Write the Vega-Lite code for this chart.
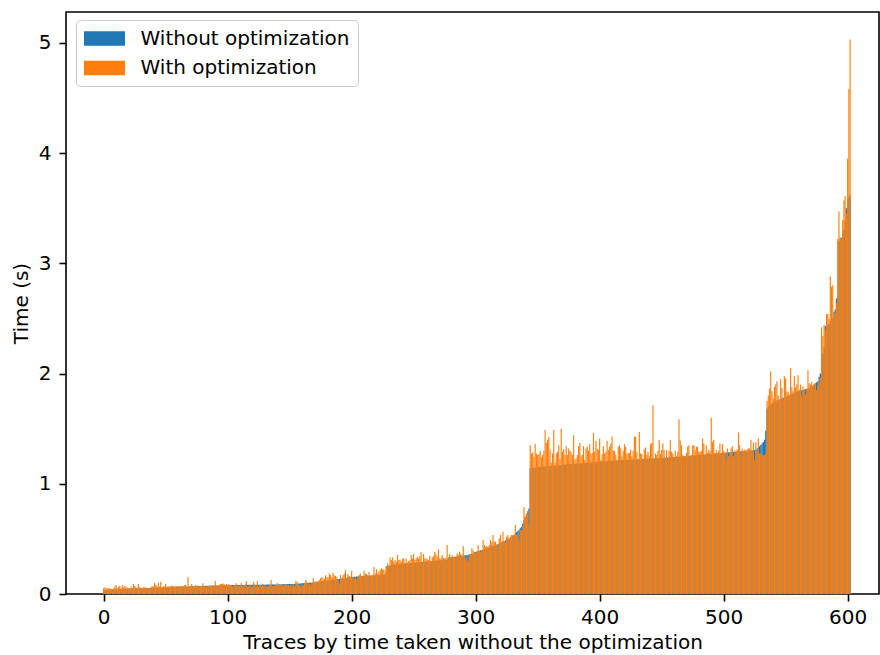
{
  "$schema": "https://vega.github.io/schema/vega-lite/v6.json",
  "width": 813,
  "height": 582,
  "autosize": {"type": "none"},
  "padding": {"left": 66, "top": 12, "right": 1, "bottom": 61},
  "background": "white",
  "config": {
    "font": "DejaVu Sans",
    "view": {"stroke": "black", "strokeWidth": 1.6},
    "axis": {
      "domain": false,
      "grid": false,
      "ticks": true,
      "tickColor": "black",
      "tickSize": 7,
      "tickWidth": 1.6,
      "labelColor": "black",
      "labelFont": "DejaVu Sans",
      "labelFontSize": 20,
      "titleColor": "black",
      "titleFont": "DejaVu Sans",
      "titleFontSize": 20,
      "titleFontWeight": "normal"
    },
    "axisX": {"labelPadding": 6, "titlePadding": 5},
    "axisY": {"labelPadding": 8, "titlePadding": 7},
    "legend": {
      "orient": "none",
      "legendX": 10,
      "legendY": 8,
      "padding": 8,
      "fillColor": "rgba(255,255,255,0.8)",
      "strokeColor": "#cccccc",
      "cornerRadius": 4,
      "symbolType": "M-2,-0.7H2V0.7H-2Z",
      "symbolSize": 420,
      "symbolStrokeWidth": 0,
      "symbolOpacity": 1,
      "symbolOffset": 10,
      "labelOffset": 25.5,
      "labelLimit": 400,
      "labelFont": "DejaVu Sans",
      "labelFontSize": 20,
      "labelColor": "black",
      "rowPadding": 8.5
    }
  },
  "data": {
    "values": [
{"i":0,"a":0.036,"b":0.055},{"i":1,"a":0.037,"b":0.061},{"i":2,"a":0.038,"b":0.052},{"i":3,"a":0.039,"b":0.052},{"i":4,"a":0.040,"b":0.050},
{"i":5,"a":0.041,"b":0.052},{"i":6,"a":0.041,"b":0.048},{"i":7,"a":0.042,"b":0.042},{"i":8,"a":0.042,"b":0.052},{"i":9,"a":0.043,"b":0.067},
{"i":10,"a":0.043,"b":0.082},{"i":11,"a":0.044,"b":0.052},{"i":12,"a":0.044,"b":0.067},{"i":13,"a":0.045,"b":0.073},{"i":14,"a":0.045,"b":0.052},
{"i":15,"a":0.046,"b":0.082},{"i":16,"a":0.046,"b":0.061},{"i":17,"a":0.046,"b":0.073},{"i":18,"a":0.047,"b":0.061},{"i":19,"a":0.047,"b":0.058},
{"i":20,"a":0.048,"b":0.052},{"i":21,"a":0.048,"b":0.055},{"i":22,"a":0.048,"b":0.067},{"i":23,"a":0.049,"b":0.052},{"i":24,"a":0.049,"b":0.091},
{"i":25,"a":0.050,"b":0.073},{"i":26,"a":0.050,"b":0.061},{"i":27,"a":0.050,"b":0.052},{"i":28,"a":0.051,"b":0.091},{"i":29,"a":0.051,"b":0.061},
{"i":30,"a":0.052,"b":0.049},{"i":31,"a":0.052,"b":0.052},{"i":32,"a":0.053,"b":0.061},{"i":33,"a":0.053,"b":0.058},{"i":34,"a":0.053,"b":0.061},
{"i":35,"a":0.054,"b":0.052},{"i":36,"a":0.054,"b":0.055},{"i":37,"a":0.055,"b":0.052},{"i":38,"a":0.055,"b":0.061},{"i":39,"a":0.056,"b":0.073},
{"i":40,"a":0.056,"b":0.067},{"i":41,"a":0.057,"b":0.103},{"i":42,"a":0.057,"b":0.082},{"i":43,"a":0.058,"b":0.067},{"i":44,"a":0.058,"b":0.103},
{"i":45,"a":0.058,"b":0.067},{"i":46,"a":0.059,"b":0.112},{"i":47,"a":0.059,"b":0.064},{"i":48,"a":0.060,"b":0.067},{"i":49,"a":0.060,"b":0.070},
{"i":50,"a":0.061,"b":0.091},{"i":51,"a":0.061,"b":0.067},{"i":52,"a":0.062,"b":0.067},{"i":53,"a":0.062,"b":0.070},{"i":54,"a":0.062,"b":0.067},
{"i":55,"a":0.063,"b":0.076},{"i":56,"a":0.063,"b":0.073},{"i":57,"a":0.064,"b":0.067},{"i":58,"a":0.064,"b":0.070},{"i":59,"a":0.065,"b":0.073},
{"i":60,"a":0.065,"b":0.073},{"i":61,"a":0.066,"b":0.067},{"i":62,"a":0.066,"b":0.070},{"i":63,"a":0.066,"b":0.073},{"i":64,"a":0.067,"b":0.070},
{"i":65,"a":0.067,"b":0.082},{"i":66,"a":0.068,"b":0.082},{"i":67,"a":0.068,"b":0.067},{"i":68,"a":0.068,"b":0.151},{"i":69,"a":0.069,"b":0.067},
{"i":70,"a":0.069,"b":0.073},{"i":71,"a":0.070,"b":0.091},{"i":72,"a":0.070,"b":0.073},{"i":73,"a":0.070,"b":0.067},{"i":74,"a":0.071,"b":0.082},
{"i":75,"a":0.071,"b":0.073},{"i":76,"a":0.072,"b":0.076},{"i":77,"a":0.072,"b":0.067},{"i":78,"a":0.072,"b":0.073},{"i":79,"a":0.073,"b":0.073},
{"i":80,"a":0.073,"b":0.097},{"i":81,"a":0.074,"b":0.073},{"i":82,"a":0.074,"b":0.067},{"i":83,"a":0.074,"b":0.067},{"i":84,"a":0.075,"b":0.073},
{"i":85,"a":0.075,"b":0.073},{"i":86,"a":0.075,"b":0.076},{"i":87,"a":0.076,"b":0.073},{"i":88,"a":0.076,"b":0.079},{"i":89,"a":0.076,"b":0.073},
{"i":90,"a":0.077,"b":0.117},{"i":91,"a":0.077,"b":0.073},{"i":92,"a":0.077,"b":0.067},{"i":93,"a":0.078,"b":0.079},{"i":94,"a":0.078,"b":0.091},
{"i":95,"a":0.078,"b":0.091},{"i":96,"a":0.079,"b":0.097},{"i":97,"a":0.079,"b":0.091},{"i":98,"a":0.079,"b":0.082},{"i":99,"a":0.080,"b":0.091},
{"i":100,"a":0.080,"b":0.085},{"i":101,"a":0.080,"b":0.088},{"i":102,"a":0.080,"b":0.085},{"i":103,"a":0.081,"b":0.073},{"i":104,"a":0.081,"b":0.067},
{"i":105,"a":0.081,"b":0.067},{"i":106,"a":0.081,"b":0.079},{"i":107,"a":0.081,"b":0.097},{"i":108,"a":0.082,"b":0.073},{"i":109,"a":0.082,"b":0.067},
{"i":110,"a":0.082,"b":0.067},{"i":111,"a":0.082,"b":0.100},{"i":112,"a":0.082,"b":0.073},{"i":113,"a":0.082,"b":0.079},{"i":114,"a":0.083,"b":0.061},
{"i":115,"a":0.083,"b":0.118},{"i":116,"a":0.083,"b":0.067},{"i":117,"a":0.083,"b":0.073},{"i":118,"a":0.083,"b":0.067},{"i":119,"a":0.083,"b":0.067},
{"i":120,"a":0.084,"b":0.067},{"i":121,"a":0.084,"b":0.109},{"i":122,"a":0.084,"b":0.073},{"i":123,"a":0.084,"b":0.067},{"i":124,"a":0.084,"b":0.118},
{"i":125,"a":0.085,"b":0.067},{"i":126,"a":0.085,"b":0.079},{"i":127,"a":0.085,"b":0.073},{"i":128,"a":0.085,"b":0.091},{"i":129,"a":0.085,"b":0.073},
{"i":130,"a":0.085,"b":0.067},{"i":131,"a":0.086,"b":0.067},{"i":132,"a":0.086,"b":0.067},{"i":133,"a":0.086,"b":0.073},{"i":134,"a":0.086,"b":0.079},
{"i":135,"a":0.086,"b":0.127},{"i":136,"a":0.087,"b":0.073},{"i":137,"a":0.087,"b":0.073},{"i":138,"a":0.087,"b":0.079},{"i":139,"a":0.087,"b":0.073},
{"i":140,"a":0.087,"b":0.100},{"i":141,"a":0.088,"b":0.091},{"i":142,"a":0.088,"b":0.082},{"i":143,"a":0.088,"b":0.082},{"i":144,"a":0.088,"b":0.079},
{"i":145,"a":0.089,"b":0.073},{"i":146,"a":0.089,"b":0.082},{"i":147,"a":0.089,"b":0.091},{"i":148,"a":0.090,"b":0.082},{"i":149,"a":0.090,"b":0.082},
{"i":150,"a":0.090,"b":0.079},{"i":151,"a":0.091,"b":0.067},{"i":152,"a":0.091,"b":0.067},{"i":153,"a":0.092,"b":0.088},{"i":154,"a":0.092,"b":0.070},
{"i":155,"a":0.093,"b":0.118},{"i":156,"a":0.093,"b":0.109},{"i":157,"a":0.094,"b":0.091},{"i":158,"a":0.095,"b":0.079},{"i":159,"a":0.096,"b":0.061},
{"i":160,"a":0.097,"b":0.067},{"i":161,"a":0.098,"b":0.082},{"i":162,"a":0.099,"b":0.097},{"i":163,"a":0.100,"b":0.127},{"i":164,"a":0.100,"b":0.109},
{"i":165,"a":0.101,"b":0.097},{"i":166,"a":0.102,"b":0.091},{"i":167,"a":0.103,"b":0.082},{"i":168,"a":0.104,"b":0.100},{"i":169,"a":0.105,"b":0.145},
{"i":170,"a":0.106,"b":0.112},{"i":171,"a":0.108,"b":0.109},{"i":172,"a":0.110,"b":0.118},{"i":173,"a":0.112,"b":0.112},{"i":174,"a":0.114,"b":0.127},
{"i":175,"a":0.116,"b":0.145},{"i":176,"a":0.118,"b":0.157},{"i":177,"a":0.119,"b":0.133},{"i":178,"a":0.120,"b":0.139},{"i":179,"a":0.121,"b":0.169},
{"i":180,"a":0.122,"b":0.151},{"i":181,"a":0.124,"b":0.151},{"i":182,"a":0.126,"b":0.187},{"i":183,"a":0.128,"b":0.172},{"i":184,"a":0.130,"b":0.151},
{"i":185,"a":0.132,"b":0.193},{"i":186,"a":0.133,"b":0.169},{"i":187,"a":0.134,"b":0.163},{"i":188,"a":0.135,"b":0.151},{"i":189,"a":0.136,"b":0.127},
{"i":190,"a":0.137,"b":0.097},{"i":191,"a":0.138,"b":0.172},{"i":192,"a":0.140,"b":0.133},{"i":193,"a":0.142,"b":0.169},{"i":194,"a":0.144,"b":0.187},
{"i":195,"a":0.146,"b":0.218},{"i":196,"a":0.148,"b":0.142},{"i":197,"a":0.150,"b":0.181},{"i":198,"a":0.152,"b":0.163},{"i":199,"a":0.153,"b":0.157},
{"i":200,"a":0.154,"b":0.212},{"i":201,"a":0.155,"b":0.142},{"i":202,"a":0.156,"b":0.133},{"i":203,"a":0.157,"b":0.151},{"i":204,"a":0.158,"b":0.133},
{"i":205,"a":0.159,"b":0.160},{"i":206,"a":0.160,"b":0.172},{"i":207,"a":0.161,"b":0.187},{"i":208,"a":0.162,"b":0.157},{"i":209,"a":0.163,"b":0.163},
{"i":210,"a":0.164,"b":0.212},{"i":211,"a":0.165,"b":0.187},{"i":212,"a":0.165,"b":0.181},{"i":213,"a":0.166,"b":0.172},{"i":214,"a":0.166,"b":0.202},
{"i":215,"a":0.167,"b":0.158},{"i":216,"a":0.168,"b":0.163},{"i":217,"a":0.168,"b":0.175},{"i":218,"a":0.169,"b":0.248},{"i":219,"a":0.169,"b":0.187},
{"i":220,"a":0.170,"b":0.224},{"i":221,"a":0.171,"b":0.187},{"i":222,"a":0.171,"b":0.202},{"i":223,"a":0.172,"b":0.218},{"i":224,"a":0.173,"b":0.233},
{"i":225,"a":0.174,"b":0.224},{"i":226,"a":0.175,"b":0.224},{"i":227,"a":0.176,"b":0.202},{"i":228,"a":0.252,"b":0.250},{"i":229,"a":0.255,"b":0.279},
{"i":230,"a":0.258,"b":0.254},{"i":231,"a":0.260,"b":0.332},{"i":232,"a":0.262,"b":0.308},{"i":233,"a":0.264,"b":0.332},{"i":234,"a":0.266,"b":0.293},
{"i":235,"a":0.268,"b":0.308},{"i":236,"a":0.270,"b":0.293},{"i":237,"a":0.271,"b":0.354},{"i":238,"a":0.272,"b":0.308},{"i":239,"a":0.273,"b":0.314},
{"i":240,"a":0.274,"b":0.293},{"i":241,"a":0.275,"b":0.323},{"i":242,"a":0.276,"b":0.323},{"i":243,"a":0.277,"b":0.284},{"i":244,"a":0.278,"b":0.323},
{"i":245,"a":0.279,"b":0.284},{"i":246,"a":0.280,"b":0.300},{"i":247,"a":0.281,"b":0.308},{"i":248,"a":0.282,"b":0.354},{"i":249,"a":0.283,"b":0.323},
{"i":250,"a":0.284,"b":0.363},{"i":251,"a":0.285,"b":0.308},{"i":252,"a":0.286,"b":0.323},{"i":253,"a":0.287,"b":0.338},{"i":254,"a":0.288,"b":0.323},
{"i":255,"a":0.289,"b":0.344},{"i":256,"a":0.290,"b":0.381},{"i":257,"a":0.291,"b":0.284},{"i":258,"a":0.292,"b":0.363},{"i":259,"a":0.293,"b":0.323},
{"i":260,"a":0.294,"b":0.323},{"i":261,"a":0.295,"b":0.316},{"i":262,"a":0.296,"b":0.308},{"i":263,"a":0.297,"b":0.344},{"i":264,"a":0.298,"b":0.293},
{"i":265,"a":0.299,"b":0.332},{"i":266,"a":0.300,"b":0.344},{"i":267,"a":0.301,"b":0.384},{"i":268,"a":0.302,"b":0.363},{"i":269,"a":0.303,"b":0.338},
{"i":270,"a":0.304,"b":0.405},{"i":271,"a":0.305,"b":0.323},{"i":272,"a":0.306,"b":0.323},{"i":273,"a":0.307,"b":0.354},{"i":274,"a":0.308,"b":0.332},
{"i":275,"a":0.309,"b":0.323},{"i":276,"a":0.310,"b":0.330},{"i":277,"a":0.311,"b":0.444},{"i":278,"a":0.330,"b":0.323},{"i":279,"a":0.332,"b":0.363},
{"i":280,"a":0.333,"b":0.332},{"i":281,"a":0.334,"b":0.354},{"i":282,"a":0.336,"b":0.338},{"i":283,"a":0.337,"b":0.332},{"i":284,"a":0.338,"b":0.338},
{"i":285,"a":0.340,"b":0.369},{"i":286,"a":0.341,"b":0.354},{"i":287,"a":0.342,"b":0.384},{"i":288,"a":0.344,"b":0.363},{"i":289,"a":0.346,"b":0.350},
{"i":290,"a":0.348,"b":0.435},{"i":291,"a":0.350,"b":0.344},{"i":292,"a":0.352,"b":0.323},{"i":293,"a":0.354,"b":0.308},{"i":294,"a":0.356,"b":0.293},
{"i":295,"a":0.358,"b":0.363},{"i":296,"a":0.360,"b":0.354},{"i":297,"a":0.362,"b":0.414},{"i":298,"a":0.365,"b":0.393},{"i":299,"a":0.378,"b":0.384},
{"i":300,"a":0.382,"b":0.375},{"i":301,"a":0.386,"b":0.380},{"i":302,"a":0.389,"b":0.444},{"i":303,"a":0.392,"b":0.393},{"i":304,"a":0.396,"b":0.384},
{"i":305,"a":0.400,"b":0.399},{"i":306,"a":0.403,"b":0.490},{"i":307,"a":0.406,"b":0.444},{"i":308,"a":0.410,"b":0.429},{"i":309,"a":0.414,"b":0.435},
{"i":310,"a":0.420,"b":0.429},{"i":311,"a":0.424,"b":0.444},{"i":312,"a":0.428,"b":0.490},{"i":313,"a":0.432,"b":0.470},{"i":314,"a":0.436,"b":0.535},
{"i":315,"a":0.440,"b":0.475},{"i":316,"a":0.444,"b":0.475},{"i":317,"a":0.448,"b":0.444},{"i":318,"a":0.452,"b":0.429},{"i":319,"a":0.456,"b":0.505},
{"i":320,"a":0.460,"b":0.535},{"i":321,"a":0.468,"b":0.475},{"i":322,"a":0.474,"b":0.565},{"i":323,"a":0.480,"b":0.481},{"i":324,"a":0.486,"b":0.475},
{"i":325,"a":0.492,"b":0.520},{"i":326,"a":0.498,"b":0.535},{"i":327,"a":0.504,"b":0.496},{"i":328,"a":0.510,"b":0.520},{"i":329,"a":0.518,"b":0.535},
{"i":330,"a":0.526,"b":0.535},{"i":331,"a":0.535,"b":0.540},{"i":332,"a":0.548,"b":0.625},{"i":333,"a":0.560,"b":0.541},{"i":334,"a":0.572,"b":0.535},
{"i":335,"a":0.584,"b":0.475},{"i":336,"a":0.596,"b":0.580},{"i":337,"a":0.610,"b":0.580},{"i":338,"a":0.640,"b":0.610},{"i":339,"a":0.670,"b":0.790},
{"i":340,"a":0.700,"b":0.700},{"i":341,"a":0.725,"b":0.730},{"i":342,"a":0.750,"b":0.740},{"i":343,"a":0.775,"b":0.625},{"i":344,"a":1.140,"b":1.350},
{"i":345,"a":1.142,"b":1.275},{"i":346,"a":1.144,"b":1.285},{"i":347,"a":1.146,"b":1.245},{"i":348,"a":1.148,"b":1.360},{"i":349,"a":1.150,"b":1.275},
{"i":350,"a":1.151,"b":1.260},{"i":351,"a":1.152,"b":1.270},{"i":352,"a":1.153,"b":1.300},{"i":353,"a":1.154,"b":1.240},{"i":354,"a":1.155,"b":1.260},
{"i":355,"a":1.156,"b":1.300},{"i":356,"a":1.157,"b":1.487},{"i":357,"a":1.158,"b":1.370},{"i":358,"a":1.159,"b":1.400},{"i":359,"a":1.160,"b":1.424},
{"i":360,"a":1.161,"b":1.310},{"i":361,"a":1.162,"b":1.190},{"i":362,"a":1.163,"b":1.275},{"i":363,"a":1.164,"b":1.487},{"i":364,"a":1.165,"b":1.190},
{"i":365,"a":1.166,"b":1.275},{"i":366,"a":1.167,"b":1.290},{"i":367,"a":1.168,"b":1.350},{"i":368,"a":1.169,"b":1.230},{"i":369,"a":1.170,"b":1.500},
{"i":370,"a":1.171,"b":1.290},{"i":371,"a":1.172,"b":1.315},{"i":372,"a":1.173,"b":1.260},{"i":373,"a":1.174,"b":1.340},{"i":374,"a":1.175,"b":1.260},
{"i":375,"a":1.176,"b":1.320},{"i":376,"a":1.177,"b":1.300},{"i":377,"a":1.178,"b":1.285},{"i":378,"a":1.179,"b":1.260},{"i":379,"a":1.180,"b":1.440},
{"i":380,"a":1.181,"b":1.220},{"i":381,"a":1.182,"b":1.230},{"i":382,"a":1.183,"b":1.260},{"i":383,"a":1.184,"b":1.340},{"i":384,"a":1.185,"b":1.370},
{"i":385,"a":1.186,"b":1.250},{"i":386,"a":1.187,"b":1.260},{"i":387,"a":1.188,"b":1.340},{"i":388,"a":1.189,"b":1.215},{"i":389,"a":1.190,"b":1.320},
{"i":390,"a":1.191,"b":1.336},{"i":391,"a":1.192,"b":1.300},{"i":392,"a":1.193,"b":1.360},{"i":393,"a":1.194,"b":1.270},{"i":394,"a":1.195,"b":1.280},
{"i":395,"a":1.196,"b":1.460},{"i":396,"a":1.197,"b":1.290},{"i":397,"a":1.198,"b":1.390},{"i":398,"a":1.199,"b":1.320},{"i":399,"a":1.200,"b":1.306},
{"i":400,"a":1.201,"b":1.410},{"i":401,"a":1.202,"b":1.215},{"i":402,"a":1.202,"b":1.275},{"i":403,"a":1.203,"b":1.340},{"i":404,"a":1.204,"b":1.275},
{"i":405,"a":1.205,"b":1.290},{"i":406,"a":1.206,"b":1.390},{"i":407,"a":1.206,"b":1.306},{"i":408,"a":1.207,"b":1.336},{"i":409,"a":1.208,"b":1.366},
{"i":410,"a":1.209,"b":1.430},{"i":411,"a":1.210,"b":1.300},{"i":412,"a":1.210,"b":1.300},{"i":413,"a":1.211,"b":1.260},{"i":414,"a":1.212,"b":1.215},
{"i":415,"a":1.213,"b":1.336},{"i":416,"a":1.214,"b":1.350},{"i":417,"a":1.214,"b":1.320},{"i":418,"a":1.215,"b":1.250},{"i":419,"a":1.216,"b":1.300},
{"i":420,"a":1.217,"b":1.360},{"i":421,"a":1.218,"b":1.336},{"i":422,"a":1.218,"b":1.270},{"i":423,"a":1.219,"b":1.280},{"i":424,"a":1.220,"b":1.280},
{"i":425,"a":1.220,"b":1.310},{"i":426,"a":1.221,"b":1.250},{"i":427,"a":1.221,"b":1.300},{"i":428,"a":1.222,"b":1.426},{"i":429,"a":1.222,"b":1.430},
{"i":430,"a":1.223,"b":1.290},{"i":431,"a":1.223,"b":1.215},{"i":432,"a":1.224,"b":1.470},{"i":433,"a":1.224,"b":1.275},{"i":434,"a":1.225,"b":1.270},
{"i":435,"a":1.225,"b":1.215},{"i":436,"a":1.226,"b":1.310},{"i":437,"a":1.226,"b":1.330},{"i":438,"a":1.227,"b":1.260},{"i":439,"a":1.227,"b":1.290},
{"i":440,"a":1.228,"b":1.250},{"i":441,"a":1.228,"b":1.360},{"i":442,"a":1.229,"b":1.370},{"i":443,"a":1.229,"b":1.713},{"i":444,"a":1.230,"b":1.220},
{"i":445,"a":1.231,"b":1.275},{"i":446,"a":1.232,"b":1.260},{"i":447,"a":1.232,"b":1.300},{"i":448,"a":1.233,"b":1.396},{"i":449,"a":1.234,"b":1.270},
{"i":450,"a":1.235,"b":1.306},{"i":451,"a":1.236,"b":1.366},{"i":452,"a":1.236,"b":1.306},{"i":453,"a":1.237,"b":1.230},{"i":454,"a":1.238,"b":1.306},
{"i":455,"a":1.239,"b":1.230},{"i":456,"a":1.240,"b":1.300},{"i":457,"a":1.240,"b":1.396},{"i":458,"a":1.241,"b":1.290},{"i":459,"a":1.242,"b":1.275},
{"i":460,"a":1.243,"b":1.240},{"i":461,"a":1.244,"b":1.300},{"i":462,"a":1.244,"b":1.250},{"i":463,"a":1.245,"b":1.290},{"i":464,"a":1.246,"b":1.586},
{"i":465,"a":1.247,"b":1.390},{"i":466,"a":1.248,"b":1.350},{"i":467,"a":1.248,"b":1.260},{"i":468,"a":1.249,"b":1.245},{"i":469,"a":1.250,"b":1.250},
{"i":470,"a":1.251,"b":1.280},{"i":471,"a":1.252,"b":1.336},{"i":472,"a":1.253,"b":1.350},{"i":473,"a":1.254,"b":1.250},{"i":474,"a":1.255,"b":1.260},
{"i":475,"a":1.256,"b":1.350},{"i":476,"a":1.257,"b":1.350},{"i":477,"a":1.258,"b":1.306},{"i":478,"a":1.259,"b":1.336},{"i":479,"a":1.260,"b":1.336},
{"i":480,"a":1.261,"b":1.290},{"i":481,"a":1.262,"b":1.290},{"i":482,"a":1.263,"b":1.300},{"i":483,"a":1.264,"b":1.410},{"i":484,"a":1.265,"b":1.366},
{"i":485,"a":1.266,"b":1.260},{"i":486,"a":1.267,"b":1.350},{"i":487,"a":1.268,"b":1.280},{"i":488,"a":1.269,"b":1.306},{"i":489,"a":1.270,"b":1.290},
{"i":490,"a":1.271,"b":1.600},{"i":491,"a":1.272,"b":1.380},{"i":492,"a":1.273,"b":1.396},{"i":493,"a":1.274,"b":1.275},{"i":494,"a":1.275,"b":1.306},
{"i":495,"a":1.276,"b":1.275},{"i":496,"a":1.277,"b":1.300},{"i":497,"a":1.278,"b":1.366},{"i":498,"a":1.279,"b":1.275},{"i":499,"a":1.280,"b":1.360},
{"i":500,"a":1.281,"b":1.300},{"i":501,"a":1.282,"b":1.280},{"i":502,"a":1.283,"b":1.220},{"i":503,"a":1.284,"b":1.320},{"i":504,"a":1.285,"b":1.250},
{"i":505,"a":1.286,"b":1.280},{"i":506,"a":1.287,"b":1.320},{"i":507,"a":1.288,"b":1.340},{"i":508,"a":1.289,"b":1.250},{"i":509,"a":1.290,"b":1.300},
{"i":510,"a":1.291,"b":1.300},{"i":511,"a":1.292,"b":1.310},{"i":512,"a":1.293,"b":1.466},{"i":513,"a":1.294,"b":1.350},{"i":514,"a":1.295,"b":1.260},
{"i":515,"a":1.296,"b":1.320},{"i":516,"a":1.297,"b":1.300},{"i":517,"a":1.298,"b":1.310},{"i":518,"a":1.299,"b":1.300},{"i":519,"a":1.300,"b":1.310},
{"i":520,"a":1.301,"b":1.320},{"i":521,"a":1.302,"b":1.320},{"i":522,"a":1.303,"b":1.400},{"i":523,"a":1.304,"b":1.290},{"i":524,"a":1.305,"b":1.375},
{"i":525,"a":1.306,"b":1.220},{"i":526,"a":1.312,"b":1.380},{"i":527,"a":1.320,"b":1.300},{"i":528,"a":1.330,"b":1.410},{"i":529,"a":1.340,"b":1.275},
{"i":530,"a":1.352,"b":1.275},{"i":531,"a":1.365,"b":1.250},{"i":532,"a":1.380,"b":1.260},{"i":533,"a":1.400,"b":1.260},{"i":534,"a":1.480,"b":1.280},
{"i":535,"a":1.680,"b":1.750},{"i":536,"a":1.700,"b":1.800},{"i":537,"a":1.710,"b":1.865},{"i":538,"a":1.720,"b":2.020},{"i":539,"a":1.730,"b":1.840},
{"i":540,"a":1.740,"b":1.774},{"i":541,"a":1.745,"b":1.880},{"i":542,"a":1.750,"b":1.900},{"i":543,"a":1.755,"b":1.930},{"i":544,"a":1.760,"b":1.800},
{"i":545,"a":1.765,"b":1.760},{"i":546,"a":1.770,"b":1.950},{"i":547,"a":1.775,"b":1.870},{"i":548,"a":1.780,"b":1.765},{"i":549,"a":1.785,"b":1.976},
{"i":550,"a":1.790,"b":1.955},{"i":551,"a":1.795,"b":1.840},{"i":552,"a":1.800,"b":1.830},{"i":553,"a":1.805,"b":1.810},{"i":554,"a":1.810,"b":2.050},
{"i":555,"a":1.815,"b":1.875},{"i":556,"a":1.820,"b":1.840},{"i":557,"a":1.825,"b":1.976},{"i":558,"a":1.830,"b":1.875},{"i":559,"a":1.835,"b":1.900},
{"i":560,"a":1.840,"b":1.985},{"i":561,"a":1.843,"b":1.855},{"i":562,"a":1.846,"b":1.900},{"i":563,"a":1.849,"b":1.800},{"i":564,"a":1.852,"b":1.885},
{"i":565,"a":1.855,"b":1.855},{"i":566,"a":1.858,"b":1.810},{"i":567,"a":1.861,"b":1.860},{"i":568,"a":1.864,"b":2.030},{"i":569,"a":1.868,"b":1.915},
{"i":570,"a":1.872,"b":1.900},{"i":571,"a":1.880,"b":1.920},{"i":572,"a":1.890,"b":1.880},{"i":573,"a":1.900,"b":1.900},{"i":574,"a":1.910,"b":1.915},
{"i":575,"a":1.920,"b":1.850},{"i":576,"a":1.930,"b":1.890},{"i":577,"a":1.970,"b":1.925},{"i":578,"a":2.000,"b":1.960},{"i":579,"a":2.140,"b":2.420},
{"i":580,"a":2.180,"b":2.340},{"i":581,"a":2.240,"b":2.440},{"i":582,"a":2.430,"b":2.400},{"i":583,"a":2.430,"b":2.540},{"i":584,"a":2.440,"b":2.540},
{"i":585,"a":2.450,"b":2.500},{"i":586,"a":2.480,"b":2.880},{"i":587,"a":2.480,"b":2.790},{"i":588,"a":2.500,"b":2.800},{"i":589,"a":2.560,"b":2.520},
{"i":590,"a":2.580,"b":2.550},{"i":591,"a":2.680,"b":2.640},{"i":592,"a":2.700,"b":3.220},{"i":593,"a":3.200,"b":3.470},{"i":594,"a":3.220,"b":3.240},
{"i":595,"a":3.230,"b":3.220},{"i":596,"a":3.250,"b":3.390},{"i":597,"a":3.300,"b":3.570},{"i":598,"a":3.390,"b":3.610},{"i":599,"a":3.500,"b":3.450},
{"i":600,"a":3.580,"b":3.950},{"i":601,"a":3.600,"b":4.580},{"i":602,"a":3.620,"b":5.030}
    ]
  },
  "encoding": {
    "x": {
      "field": "i",
      "type": "quantitative",
      "scale": {"domain": [-30.4, 625.3], "nice": false, "zero": false, "padding": 0},
      "axis": {"values": [0, 100, 200, 300, 400, 500, 600], "format": "d", "title": "Traces by time taken without the optimization"}
    }
  },
  "layer": [
    {
      "mark": {"type": "bar", "width": 1.3, "orient": "vertical"},
      "encoding": {
        "y": {
          "field": "a",
          "type": "quantitative",
          "stack": null,
          "title": "Time (s)",
          "scale": {"domain": [0, 5.28], "nice": false},
          "axis": {"values": [0, 1, 2, 3, 4, 5], "format": "d"}
        },
        "color": {
          "datum": "Without optimization",
          "type": "nominal",
          "scale": {"domain": ["Without optimization", "With optimization"], "range": ["#1f77b4", "#ff7f0e"]},
          "legend": {"title": null}
        }
      }
    },
    {
      "mark": {"type": "bar", "width": 1.15, "orient": "vertical"},
      "encoding": {
        "y": {
          "field": "b",
          "type": "quantitative",
          "stack": null,
          "title": "Time (s)"
        },
        "color": {"datum": "With optimization", "type": "nominal"}
      }
    }
  ]
}
